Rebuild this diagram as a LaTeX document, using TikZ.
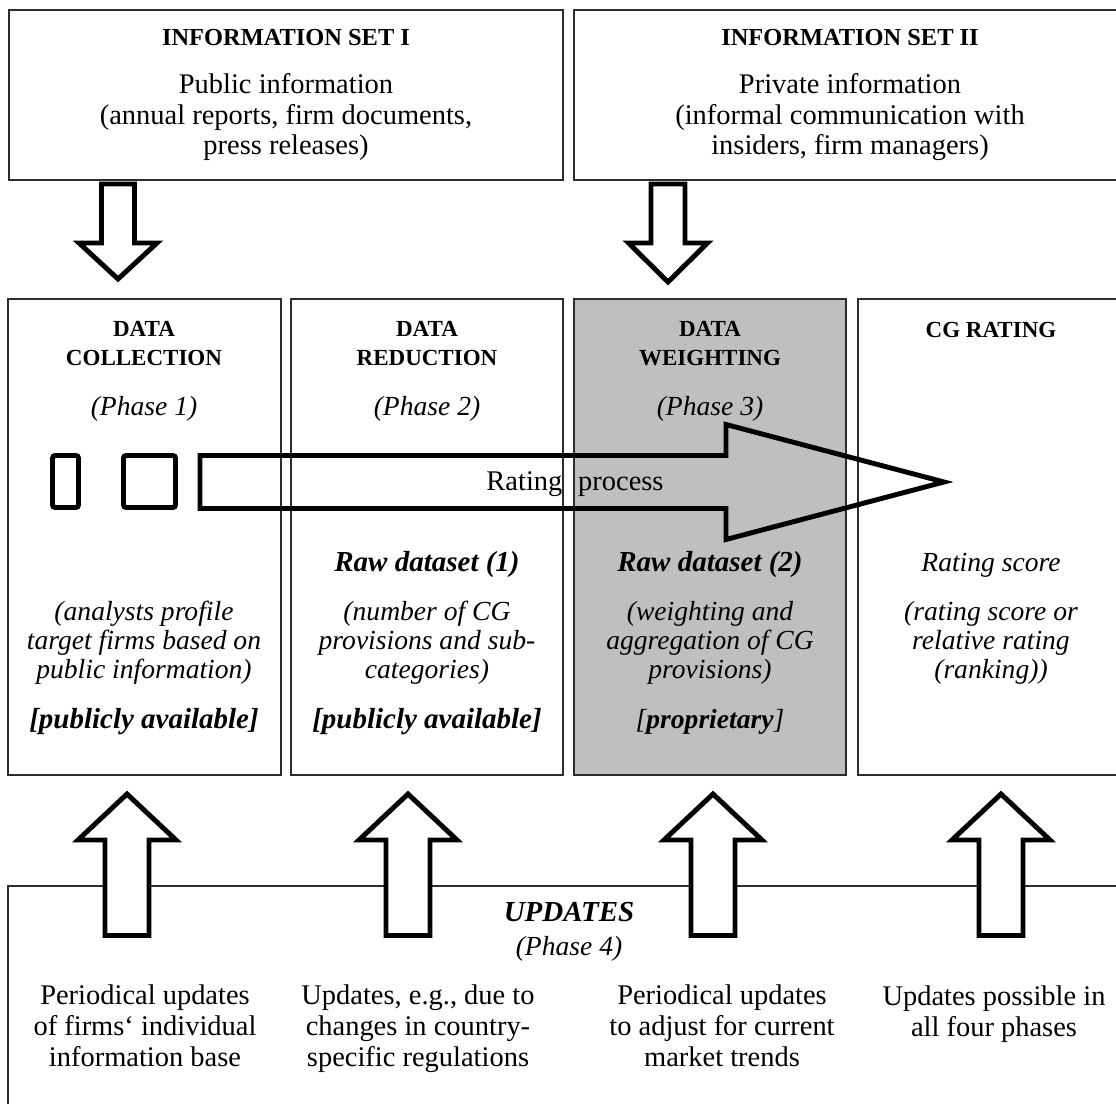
\documentclass[tikz,border=0pt]{standalone}
\usepackage{fontspec}
\setmainfont{Liberation Serif}
\usepackage{tikz}
\definecolor{shade}{RGB}{191,191,191}
\definecolor{rim}{RGB}{45,45,45}

\begin{document}
\begin{tikzpicture}[x=0.02cm,y=-0.02cm,
  every node/.style={align=center,inner sep=0pt,anchor=base},
  bodytext/.style={font=\fontsize{16.2}{17.5}\selectfont},
  settext/.style={font=\fontsize{13.9}{17}\selectfont\bfseries},
  headtext/.style={font=\fontsize{13.1}{17}\selectfont\bfseries},
  phasetext/.style={font=\fontsize{15.7}{16.6}\selectfont\itshape},
  keytext/.style={font=\fontsize{16.5}{16.6}\selectfont\bfseries\itshape},
  frame/.style={draw=rim,line width=0.8pt},
  blockarrow/.style={draw=black,line width=2.8pt,fill=white},
  hollow/.style={draw=black,line width=2.8pt}]
\clip (0,0) rectangle (1116,1104);
\draw[frame] (9,10) rectangle (563,180);
\draw[frame] (574,10) rectangle (1130,180);
\node[settext] (set1) at (286,46) {INFORMATION SET I};
\node[bodytext] (pub) at (286,155) {Public information\\(annual reports, firm documents,\\press releases)};
\node[settext] (set2) at (850,46) {INFORMATION SET II};
\node[bodytext] (priv) at (850,155) {Private information\\(informal communication with\\insiders, firm managers)};
\draw[blockarrow] (101.5,184) -- (101.5,243) -- (79,243) -- (118,279) -- (157,243) -- (134.5,243) -- (134.5,184) -- cycle;
\draw[blockarrow] (651,184) -- (651,243) -- (628.5,243) -- (668,282) -- (707.5,243) -- (685,243) -- (685,184) -- cycle;
\draw[frame] (8,299) rectangle (281,775);
\draw[frame] (291,299) rectangle (563,775);
\draw[frame,fill=shade] (574,299) rectangle (846,775);
\draw[frame] (858,299) rectangle (1130,775);
\node[headtext] (coll) at (144,366) {DATA\\COLLECTION};
\node[headtext] (red) at (427,366) {DATA\\REDUCTION};
\node[headtext] (wgt) at (710,366) {DATA\\WEIGHTING};
\node[headtext] (cg) at (991,338) {CG RATING};
\node[phasetext] (ph1) at (144,416) {(Phase 1)};
\node[phasetext] (ph2) at (427,416) {(Phase 2)};
\node[phasetext] (ph3) at (710,416) {(Phase 3)};
\node[keytext] (raw1) at (427,572) {Raw dataset (1)};
\node[keytext] (raw2) at (710,572) {Raw dataset (2)};
\node[phasetext] (score) at (991,572) {Rating score};
\node[phasetext] (prof) at (144,679) {(analysts profile\\target firms based on\\public information)};
\node[phasetext] (num) at (427,679) {(number of CG\\provisions and sub-\\categories)};
\node[phasetext] (agg) at (710,679) {(weighting and\\aggregation of CG\\provisions)};
\node[phasetext] (rank) at (991,679) {(rating score or\\relative rating\\(ranking))};
\node[keytext] (av1) at (144,728) {[publicly available]};
\node[keytext] (av2) at (427,728) {[publicly available]};
\node[phasetext] (prop) at (710,728) {[\textbf{proprietary}]};
\draw[hollow,rounded corners=1.5pt] (52.5,455.5) rectangle (78.5,507.5);
\draw[hollow,rounded corners=1.5pt] (123.5,455.5) rectangle (175.5,507.5);
\draw[hollow] (200,455.5) -- (726,455.5) -- (726,424.5) -- (944,482) -- (726,539.5) -- (726,508.5) -- (200,508.5) -- cycle;
\node[bodytext] (proc) at (575,491) {Rating\hspace{9pt}process};
\draw[frame] (8,886) rectangle (1130,1110);
\foreach \x in {127,408,713,1001}
  \draw[blockarrow] ({\x-22},935.5) -- ({\x-22},840) -- ({\x-49},840) -- (\x,794) -- ({\x+49},840) -- ({\x+22},840) -- ({\x+22},935.5) -- cycle;
\node[keytext] (upd) at (569,921) {UPDATES};
\node[phasetext] (ph4) at (569,955) {(Phase 4)};
\node[bodytext] (u1) at (145,1066) {Periodical updates\\of firms‘ individual\\information base};
\node[bodytext] (u2) at (418,1066) {Updates, e.g., due to\\changes in country-\\specific regulations};
\node[bodytext] (u3) at (722,1066) {Periodical updates\\to adjust for current\\market trends};
\node[bodytext] (u4) at (994,1036) {Updates possible in\\all four phases};
\end{tikzpicture}
\end{document}
